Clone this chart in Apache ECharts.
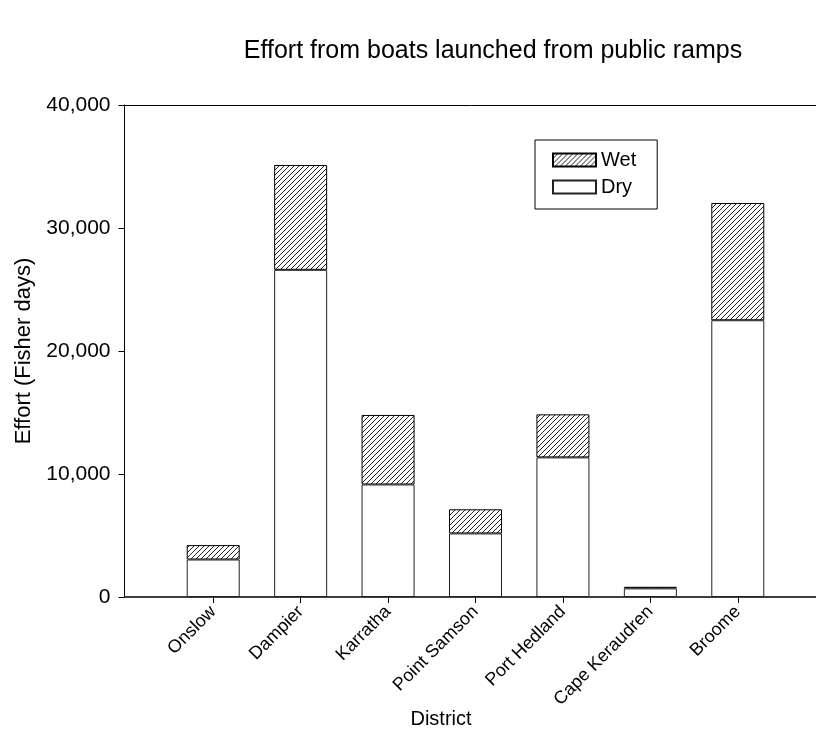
<!DOCTYPE html>
<html>
<head>
<meta charset="utf-8">
<script src="https://cdn.jsdelivr.net/npm/echarts@6/dist/echarts.min.js"></script>
<style>
  html, body { margin: 0; padding: 0; background: #fff; }
  #chart { width: 816px; height: 740px; }
</style>
</head>
<body>
<div id="chart"></div>
<script>
// Fisher days by district, split into dry and wet season
const districts = ['Onslow', 'Dampier', 'Karratha', 'Point Samson', 'Port Hedland', 'Cape Keraudren', 'Broome'];
const dryEffort = [3050, 26600, 9150, 5170, 11350, 700, 22500];
const wetEffort = [1170, 8520, 5650, 1960, 3500, 130, 9530];
const yTicks = [0, 10000, 20000, 30000, 40000];

const FONT = '"Liberation Sans", Arial, sans-serif';

// diagonal hatch tile used for the wet-season fill
function hatchTile() {
  const s = 5;
  const c = document.createElement('canvas');
  c.width = s; c.height = s;
  const g = c.getContext('2d');
  g.fillStyle = '#fff';
  g.fillRect(0, 0, s, s);
  g.strokeStyle = '#222';
  g.lineWidth = 1;
  g.beginPath();
  g.moveTo(0, s); g.lineTo(s, 0);
  g.moveTo(-1, 1); g.lineTo(1, -1);
  g.moveTo(s - 1, s + 1); g.lineTo(s + 1, s - 1);
  g.stroke();
  return c;
}

const chart = echarts.init(document.getElementById('chart'), null, { renderer: 'canvas' });

const fmt = v => v.toLocaleString('en-US');

chart.setOption({
  backgroundColor: '#fff',
  animation: false,
  textStyle: { fontFamily: FONT, color: '#000' },
  title: [
    {
      text: 'Effort from boats launched from public ramps',
      left: 488, top: 34, textAlign: 'center',
      textStyle: { fontFamily: FONT, fontSize: 25, fontWeight: 'normal', color: '#000' }
    },
    {
      text: 'District',
      left: 436, top: 704, textAlign: 'center',
      textStyle: { fontFamily: FONT, fontSize: 20, fontWeight: 'normal', color: '#000' }
    }
  ],
  legend: {
    data: ['Wet', 'Dry'],
    orient: 'vertical',
    left: 535, top: 140,
    itemWidth: 43, itemHeight: 13, itemGap: 7,
    icon: 'rect',
    borderColor: '#000', borderWidth: 1,
    padding: [10, 21, 12, 17],
    textStyle: { fontFamily: FONT, fontSize: 20, color: '#000' }
  },
  grid: [
    { left: 169.5, right: 34.5, top: 105, bottom: 143, containLabel: false },
    { left: 125, right: 0, top: 105, bottom: 143, containLabel: false, show: false }
  ],
  xAxis: [
    {
      type: 'category', gridIndex: 0, data: districts,
      axisLine: { show: false },
      axisTick: { show: true, alignWithLabel: true, length: 6, lineStyle: { color: '#000', width: 1 } },
      axisLabel: { rotate: 45, fontFamily: FONT, fontSize: 18, color: '#000', margin: 12, interval: 0 }
    },
    {
      type: 'value', gridIndex: 1, position: 'bottom', min: 0, max: 1,
      axisLine: { show: true, lineStyle: { color: '#000', width: 1.5 } },
      axisTick: { show: false }, axisLabel: { show: false }, splitLine: { show: false }
    },
    {
      type: 'value', gridIndex: 1, position: 'top', min: 0, max: 1,
      axisLine: { show: true, lineStyle: { color: '#000', width: 1 } },
      axisTick: { show: false }, axisLabel: { show: false }, splitLine: { show: false }
    }
  ],
  yAxis: [
    {
      type: 'value', gridIndex: 0,
      min: yTicks[0], max: yTicks[yTicks.length - 1], interval: yTicks[1] - yTicks[0],
      offset: 45,
      name: 'Effort (Fisher days)', nameLocation: 'middle', nameGap: 83,
      nameTextStyle: { fontFamily: FONT, fontSize: 22, color: '#000' },
      axisLine: { show: true, lineStyle: { color: '#000', width: 1 } },
      axisTick: { show: true, length: 6, lineStyle: { color: '#000' } },
      axisLabel: { fontFamily: FONT, fontSize: 21, color: '#000', margin: 14, formatter: fmt },
      splitLine: { show: false }
    },
    {
      type: 'value', gridIndex: 1, min: 0, max: 1, show: false
    }
  ],
  series: [
    {
      name: 'Dry', type: 'bar', stack: 'season', xAxisIndex: 0, yAxisIndex: 0,
      barWidth: 53,
      data: dryEffort,
      itemStyle: { color: '#fff', borderColor: '#222', borderWidth: 1 },
      z: 3
    },
    {
      name: 'Wet', type: 'bar', stack: 'season', xAxisIndex: 0, yAxisIndex: 0,
      barWidth: 53,
      data: wetEffort,
      itemStyle: { color: { image: hatchTile(), repeat: 'repeat' }, borderColor: '#000', borderWidth: 1 },
      z: 3
    }
  ]
});
</script>
</body>
</html>
